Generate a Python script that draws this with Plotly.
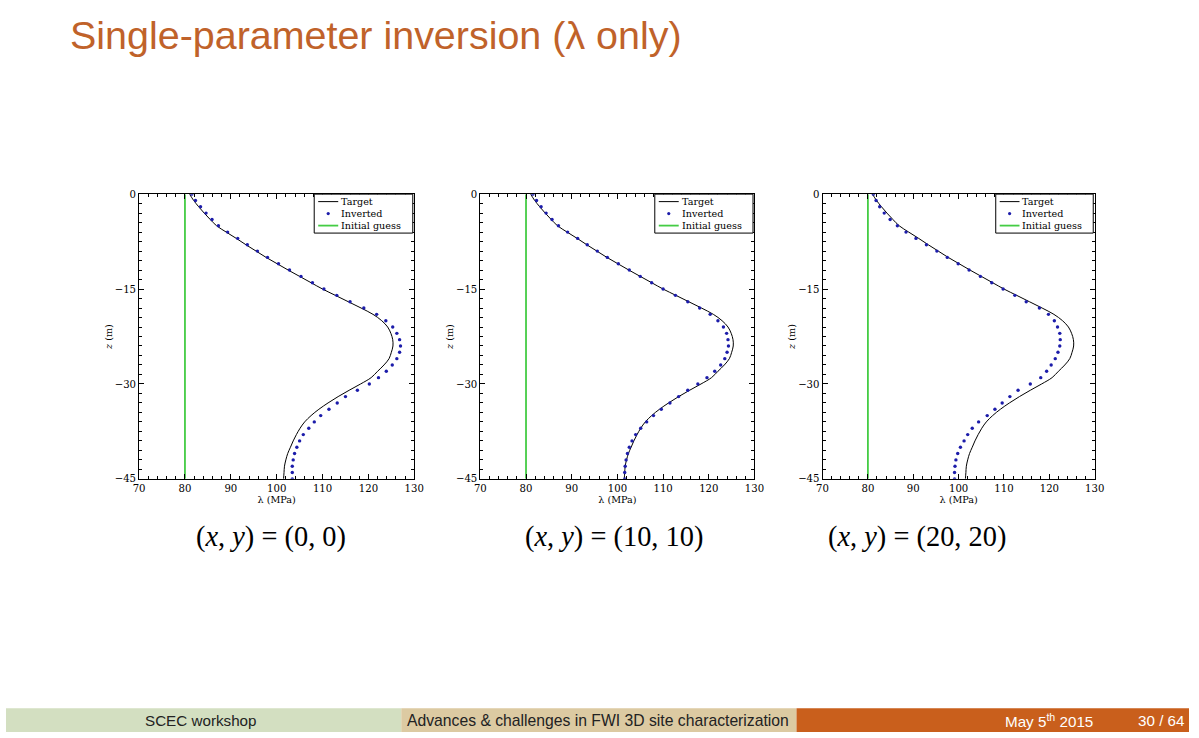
import plotly.graph_objects as go

# ---------------- data ----------------
depth = [0, -1, -2, -3, -4, -5, -6, -7, -8, -9, -10, -11, -12, -13, -14, -15,
         -16, -17, -18, -19, -20, -21, -22, -23, -24, -25, -26, -27, -28, -29, -30,
         -31, -32, -33, -34, -35, -36, -37, -38, -39, -40, -41, -42, -43, -44, -45]

target = [81.0, 81.9, 83.0, 84.2, 85.5, 86.9, 89.0, 91.2, 93.3, 95.5, 97.7, 100.1,
          102.5, 105.0, 107.5, 110.0, 112.8, 115.6, 118.4, 121.0, 122.9, 124.2, 124.9,
          125.3, 125.35, 125.0, 124.5, 123.4, 122.0, 120.6, 118.3, 115.8, 113.4, 111.2,
          109.2, 107.5, 106.1, 105.1, 104.3, 103.6, 103.0, 102.4, 102.0, 101.7, 101.6, 101.5]

inverted_00 = [81.5, 82.3, 83.4, 84.6, 85.9, 87.3, 89.3, 91.5, 93.6, 95.8, 98.0, 100.4,
               102.8, 105.3, 107.8, 110.3, 113.1, 116.0, 119.0, 121.8, 123.8, 125.3, 126.2,
               126.8, 127.0, 126.8, 126.2, 125.2, 123.9, 122.2, 120.2, 117.6, 115.0, 113.2,
               111.4, 109.6, 108.2, 107.0, 105.8, 105.0, 104.4, 103.9, 103.6, 103.4, 103.4, 103.4]

inverted_10 = [81.5, 82.3, 83.3, 84.4, 85.7, 87.1, 89.1, 91.3, 93.4, 95.6, 97.8, 100.2,
               102.6, 105.0, 107.5, 110.0, 112.7, 115.4, 118.0, 120.3, 122.0, 123.2, 123.9,
               124.2, 124.3, 124.0, 123.5, 122.6, 121.3, 119.6, 117.6, 115.4, 113.4, 111.5,
               109.6, 107.9, 106.4, 105.1, 104.0, 103.2, 102.6, 102.2, 101.9, 101.7, 101.6, 101.6]

inverted_20 = [81.2, 81.8, 82.6, 83.6, 84.9, 86.5, 88.4, 90.6, 92.9, 95.2, 97.5, 99.9,
               102.3, 104.8, 107.3, 109.8, 112.4, 114.9, 117.8, 119.8, 121.1, 121.8, 122.3,
               122.4, 122.3, 121.9, 121.3, 120.4, 119.4, 118.1, 115.8, 113.1, 111.3, 109.6,
               108.0, 106.3, 104.4, 103.0, 102.0, 101.2, 100.4, 99.8, 99.4, 99.2, 99.1, 99.1]

initial_guess = [80, 80]
initial_depth = [0, -45]

panel_inverted = [inverted_00, inverted_10, inverted_20]
panel_captions = ["(<i>x</i>, <i>y</i>) = (0, 0)",
                  "(<i>x</i>, <i>y</i>) = (10, 10)",
                  "(<i>x</i>, <i>y</i>) = (20, 20)"]
x_ticks = [70, 80, 90, 100, 110, 120, 130]
y_ticks = [0, -15, -30, -45]
y_ticktext = ["0", "\u221215", "\u221230", "\u221245"]
legend_names = ["Target", "Inverted", "Initial guess"]

title_text = "Single-parameter inversion (\u03bb only)"
footer_texts = ["SCEC workshop",
                "Advances &amp; challenges in FWI 3D site characterization",
                "May 5<sup>th</sup> 2015", "30 / 64"]

# ---------------- layout constants ----------------
W, H = 1199, 738
# the photographed page appears as  5 px + 0.986 * page px ; positions below are
# wanted picture positions, converted to page pixels
K, OFF = 0.986, 5.0


def px(s):
    return min(max((s - OFF) / K, 0.0), float(W))


def py(s):
    return min(max((s - OFF) / K, 0.0), float(H))


def fs(size):
    return size / K


x_domains_s = [(138, 413), (479, 753), (821, 1093)]
y_top_s, y_bot_s = 194.3, 479.3
caption_x_s = [270, 613, 915]

SERIF = "Liberation Serif"
SMALLSERIF = "DejaVu Serif"
SANS = "Liberation Sans"
GREEN = "#44cc44"
BLUE = "#1c1caa"
ORANGE = "#c0622a"

fig = go.Figure()

for i in range(3):
    xa = "x" if i == 0 else f"x{i+1}"
    ya = "y" if i == 0 else f"y{i+1}"
    fig.add_trace(go.Scatter(x=target, y=depth, mode="lines", name=legend_names[0],
                             line=dict(color="black", width=1, shape="spline"),
                             xaxis=xa, yaxis=ya, showlegend=False))
    fig.add_trace(go.Scatter(x=panel_inverted[i], y=depth, mode="markers", name=legend_names[1],
                             marker=dict(color=BLUE, size=3.4, symbol="circle"),
                             xaxis=xa, yaxis=ya, showlegend=False))
    fig.add_trace(go.Scatter(x=initial_guess, y=initial_depth, mode="lines", name=legend_names[2],
                             line=dict(color=GREEN, width=1.8),
                             xaxis=xa, yaxis=ya, showlegend=False))

axis_common = dict(showline=True, linecolor="black", linewidth=1, mirror="allticks",
                   ticks="inside", ticklen=5, tickcolor="black", tickwidth=1,
                   showgrid=False, zeroline=False,
                   tickfont=dict(family=SMALLSERIF, size=fs(10), color="black"))

layout = dict(width=W, height=H, margin=dict(l=0, r=0, t=0, b=0),
              paper_bgcolor="white", plot_bgcolor="white", showlegend=False)

y_dom = [1 - py(y_bot_s) / H, 1 - py(y_top_s) / H]
for i in range(3):
    xk = "xaxis" if i == 0 else f"xaxis{i+1}"
    yk = "yaxis" if i == 0 else f"yaxis{i+1}"
    ya = "y" if i == 0 else f"y{i+1}"
    xa = "x" if i == 0 else f"x{i+1}"
    s0, s1 = x_domains_s[i]
    layout[xk] = dict(axis_common, domain=[px(s0) / W, px(s1) / W], range=[70, 130],
                      tickvals=x_ticks, anchor=ya,
                      minor=dict(dtick=2, ticks="inside", ticklen=3, tickcolor="black"),
                      title=dict(text="\u03bb (MPa)",
                                 font=dict(family=SMALLSERIF, size=fs(9.5), color="black"),
                                 standoff=1))
    layout[yk] = dict(axis_common, domain=y_dom, range=[-45, 0],
                      tickvals=y_ticks, ticktext=y_ticktext, anchor=xa,
                      minor=dict(dtick=1.5, ticks="inside", ticklen=3, tickcolor="black"),
                      title=dict(text="<i>z</i> (m)",
                                 font=dict(family=SMALLSERIF, size=fs(9.5), color="black"),
                                 standoff=0))

fig.update_layout(**layout)

annotations = []
shapes = []
annotations.append(dict(text=title_text, x=px(67) / W, y=1 - py(11.5) / H,
                        xref="paper", yref="paper",
                        xanchor="left", yanchor="top", showarrow=False,
                        font=dict(family=SANS, size=fs(38.9), color=ORANGE)))
for i in range(3):
    annotations.append(dict(text=panel_captions[i], x=px(caption_x_s[i]) / W,
                            y=1 - py(537) / H,
                            xref="paper", yref="paper", xanchor="center", yanchor="middle",
                            showarrow=False, font=dict(family=SERIF, size=fs(28), color="black")))

# ---- per-panel legend box (drawn in axis-domain coordinates) ----
PW = 275.0   # panel width in picture px
PH = 285.0   # panel height in picture px
rows = [7.5, 19.5, 31.5]
for i in range(3):
    xa = "x" if i == 0 else f"x{i+1}"
    ya = "y" if i == 0 else f"y{i+1}"
    xr, yr = f"{xa} domain", f"{ya} domain"
    shapes.append(dict(type="rect", xref=xr, yref=yr, x0=1 - 100 / PW, x1=1 - 1.5 / PW,
                       y0=1 - 39 / PH, y1=1, fillcolor="white",
                       line=dict(color="black", width=1), layer="above"))
    shapes.append(dict(type="line", xref=xr, yref=yr, x0=1 - 96 / PW, x1=1 - 76 / PW,
                       y0=1 - rows[0] / PH, y1=1 - rows[0] / PH,
                       line=dict(color="black", width=1), layer="above"))
    shapes.append(dict(type="circle", xref=xr, yref=yr, xsizemode="pixel", ysizemode="pixel",
                       xanchor=1 - 86 / PW, yanchor=1 - rows[1] / PH,
                       x0=-1.6, x1=1.6, y0=-1.6, y1=1.6, fillcolor=BLUE,
                       line=dict(color=BLUE, width=0), layer="above"))
    shapes.append(dict(type="line", xref=xr, yref=yr, x0=1 - 96 / PW, x1=1 - 76 / PW,
                       y0=1 - rows[2] / PH, y1=1 - rows[2] / PH,
                       line=dict(color=GREEN, width=1.8), layer="above"))
    for k in range(3):
        annotations.append(dict(text=legend_names[k], xref=xr, yref=yr,
                                x=1 - 74 / PW, y=1 - rows[k] / PH, xanchor="left",
                                yanchor="middle", showarrow=False, borderpad=0,
                                font=dict(family=SMALLSERIF, size=fs(9.5), color="black")))

# ---- footer bar ----
footer_colors = ["#d3dfc1", "#dccaa2", "#c95f1c"]
footer_edges_s = [0, 400, 795, 1199]
footer_top = 1 - py(709) / H
for k in range(3):
    shapes.append(dict(type="rect", xref="paper", yref="paper",
                       x0=px(footer_edges_s[k]) / W, x1=px(footer_edges_s[k + 1]) / W,
                       y0=0, y1=footer_top, fillcolor=footer_colors[k], line=dict(width=0),
                       layer="below"))
footer_pos_s = [200, 597, 1047, 1160]
footer_col = ["#222222", "#222222", "white", "white"]
footer_size = [15, 15.5, 15, 15]
for k in range(4):
    annotations.append(dict(text=footer_texts[k], x=px(footer_pos_s[k]) / W,
                            y=footer_top / 2,
                            xref="paper", yref="paper", xanchor="center", yanchor="middle",
                            showarrow=False,
                            font=dict(family=SANS, size=fs(footer_size[k]),
                                      color=footer_col[k])))

fig.update_layout(annotations=annotations, shapes=shapes)
fig.write_html("out.html",
               config={"displayModeBar": False},
               post_script=("document.documentElement.style.margin='0px';"
                            "document.body.style.margin='0px';"
                            "document.documentElement.style.overflow='hidden';"
                            "document.body.style.overflow='hidden';"))
